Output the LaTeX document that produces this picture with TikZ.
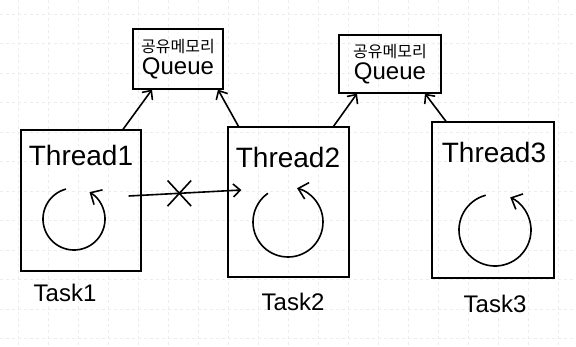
\documentclass[tikz,border=0pt]{standalone}
\usepackage{fontspec}
\setmainfont{Liberation Sans}
\newfontfamily\kofont{Noto Sans CJK KR}
\usetikzlibrary{arrows.meta,shapes.misc}

\begin{document}
\begin{tikzpicture}[
  x=1pt, y=-1pt,
  threadbox/.style={rectangle,draw,line width=1.2pt},
  queuebox/.style={rectangle,draw,line width=1.2pt,align=center,inner sep=1pt,
    font=\fontsize{24}{22}\selectfont},
  lbl/.style={font=\fontsize{28}{30}\selectfont},
  tasklbl/.style={font=\fontsize{24}{26}\selectfont},
  arrow/.style={-{Straight Barb[length=7pt,width=13pt]},line width=1.6pt},
  cyc/.style={-{Straight Barb[length=9pt,width=17pt]},line width=1.6pt},
  gridline/.style={black!7,dashed,line width=0.6pt}
]
\useasboundingbox (0,0) rectangle (576,346);
% faint grid of the notepad
\foreach \gx in {18,48,...,576} \draw[gridline] (\gx,0) -- (\gx,346);
\foreach \gy in {14,43.5,...,346} \draw[gridline] (0,\gy) -- (576,\gy);

% threads
\node[threadbox,minimum width=120pt,minimum height=141pt] (t1) at (81,200.5) {};
\node[threadbox,minimum width=121pt,minimum height=150pt] (t2) at (288.5,202) {};
\node[threadbox,minimum width=122pt,minimum height=156pt] (t3) at (493,200) {};
\node[lbl] (l1) at (81,155) {Thread1};
\node[lbl] (l2) at (288,157) {Thread2};
\node[lbl] (l3) at (494,152) {Thread3};

% shared memory queues
\node[queuebox,minimum width=90pt,minimum height=60pt] (q1) at (178,59)
  {{\kofont\fontsize{16}{16}\selectfont 공유메모리}\\Queue};
\node[queuebox,minimum width=102pt,minimum height=58pt] (q2) at (390,64)
  {{\kofont\fontsize{16}{16}\selectfont 공유메모리}\\Queue};

% tasks
\node[tasklbl] (k1) at (65,293) {Task1};
\node[tasklbl] (k2) at (293,302) {Task2};
\node[tasklbl] (k3) at (495,304) {Task3};

% loops
\coordinate (c1) at (74,219);
\coordinate (c2) at (288,222);
\coordinate (c3) at (495,230);
\draw[cyc] ([shift={(105:31pt)}]c1) arc[start angle=105,end angle=420,radius=31pt];
\draw[cyc] ([shift={(125:35pt)}]c2) arc[start angle=125,end angle=435,radius=35pt];
\draw[cyc] ([shift={(105:36pt)}]c3) arc[start angle=105,end angle=425,radius=36pt];

% access to the queues
\draw[arrow] ([xshift=42pt]t1.north) -- ([xshift=-26pt]q1.south);
\draw[arrow] ([xshift=-50pt]t2.north) -- ([xshift=40pt]q1.south);
\draw[arrow] ([xshift=45pt]t2.north) -- ([xshift=-33pt]q2.south);
\draw[arrow] ([xshift=-47pt]t3.north) -- ([xshift=35pt]q2.south);

% no direct call
\draw[arrow] ([xshift=-13pt,yshift=4.5pt]t1.east) -- ([xshift=14pt,yshift=12pt]t2.west)
  node[pos=0.45,cross out,draw,line width=1.6pt,inner sep=0pt,
    minimum width=22pt,minimum height=24pt] (nx) {};
\end{tikzpicture}
\end{document}
